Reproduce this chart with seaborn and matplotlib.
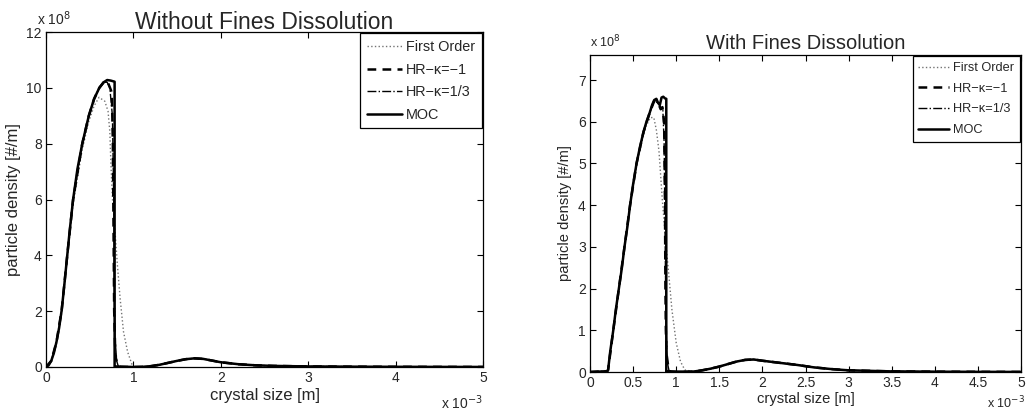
# Particle size distributions, with and without fines dissolution
import numpy as np
import pandas as pd
import seaborn as sns
import matplotlib.pyplot as plt

sns.set_style("ticks")
plt.rcParams['font.family'] = ['Liberation Sans', 'DejaVu Sans']

# ---------------------------------
# Data  (x in 1e-3 m, y in 1e8 #/m)
# ---------------------------------
# Without fines dissolution
wo_moc_x = [0, 0.03, 0.06, 0.09, 0.12, 0.15, 0.18, 0.21, 0.24, 0.27, 0.31, 0.36,
            0.415, 0.49, 0.55, 0.61, 0.66, 0.70, 0.74, 0.785, 0.785, 0.80, 0.90, 1.0]
wo_moc_y = [0, 0.06, 0.22, 0.50, 0.90, 1.40, 2.05, 2.95, 3.90, 4.85, 6.0, 7.1,
            8.0, 9.0, 9.6, 10.0, 10.2, 10.28, 10.26, 10.22, 0, 0.02, 0.01, 0.0]
wo_fo_x = [0, 0.06, 0.12, 0.18, 0.24, 0.31, 0.415, 0.49, 0.55, 0.607, 0.673, 0.71,
           0.73, 0.743, 0.76, 0.79, 0.817, 0.848, 0.887, 0.934, 0.98, 1.0]
wo_fo_y = [0, 0.2, 0.85, 1.95, 3.8, 5.85, 7.8, 8.8, 9.35, 9.66, 9.52, 9.16,
           8.44, 7.25, 6.05, 4.85, 3.65, 2.46, 1.26, 0.54, 0.12, 0.0]
wo_hr1_x = [0, 0.06, 0.12, 0.18, 0.24, 0.31, 0.415, 0.49, 0.55, 0.61, 0.66, 0.70,
            0.72, 0.745, 0.755, 0.765, 0.77, 0.775, 0.78, 0.79, 0.80, 0.82, 0.85, 1.0]
wo_hr1_y = [0, 0.22, 0.90, 2.05, 3.90, 6.0, 8.0, 9.0, 9.6, 10.0, 10.2, 10.25,
            10.1, 9.9, 9.6, 8.0, 6.0, 4.0, 2.0, 0.8, 0.3, 0.05, 0.0, 0.0]
wo_hr3_x = [0, 0.06, 0.12, 0.18, 0.24, 0.31, 0.415, 0.49, 0.55, 0.61, 0.66, 0.70,
            0.73, 0.76, 0.775, 0.78, 0.79, 0.81, 0.83, 1.0]
wo_hr3_y = [0, 0.22, 0.90, 2.05, 3.90, 6.0, 8.0, 9.0, 9.6, 10.0, 10.2, 10.2,
            10.0, 9.0, 6.0, 3.0, 1.0, 0.2, 0.0, 0.0]
wo_tail_x = [1.1, 1.2, 1.3, 1.4, 1.5, 1.6, 1.7, 1.8, 1.9, 2.0, 2.2, 2.4, 2.6,
             2.8, 3.0, 3.5, 4.0, 4.5, 5.0]
wo_tail_y = [0.005, 0.03, 0.08, 0.15, 0.22, 0.28, 0.31, 0.29, 0.23, 0.17, 0.10,
             0.06, 0.04, 0.03, 0.02, 0.012, 0.007, 0.004, 0.002]

# With fines dissolution
wi_moc_x = [0, 0.1, 0.2, 0.21, 0.235, 0.27, 0.30, 0.335, 0.37, 0.40, 0.435, 0.465,
            0.50, 0.54, 0.58, 0.62, 0.655, 0.69, 0.72, 0.745, 0.77, 0.79, 0.81,
            0.83, 0.85, 0.87, 0.885, 0.885, 0.90, 1.0]
wi_moc_y = [0, 0.01, 0.02, 0.05, 0.5, 1.0, 1.5, 2.0, 2.5, 3.0, 3.5, 4.0,
            4.5, 5.0, 5.4, 5.75, 6.0, 6.2, 6.4, 6.52, 6.55, 6.45, 6.4,
            6.58, 6.6, 6.56, 6.55, 0, 0.02, 0.01]
wi_fo_x = [0, 0.2, 0.21, 0.27, 0.335, 0.40, 0.465, 0.54, 0.60, 0.64, 0.70, 0.74,
           0.77, 0.80, 0.84, 0.88, 0.92, 0.95, 1.0, 1.05, 1.1]
wi_fo_y = [0, 0.02, 0.05, 1.0, 2.0, 3.0, 4.0, 5.0, 5.5, 5.85, 6.1, 6.1,
           5.8, 5.3, 4.1, 3.1, 2.2, 1.5, 0.7, 0.25, 0.05]
wi_hr1_x = [0, 0.2, 0.21, 0.27, 0.335, 0.40, 0.465, 0.54, 0.62, 0.69, 0.745, 0.79,
            0.82, 0.84, 0.86, 0.87, 0.875, 0.88, 0.89, 0.91, 0.93, 1.1]
wi_hr1_y = [0, 0.02, 0.05, 1.0, 2.0, 3.0, 4.0, 5.0, 5.75, 6.2, 6.5, 6.45,
            6.3, 6.35, 6.0, 4.0, 2.0, 1.0, 0.4, 0.1, 0.0, 0.0]
wi_hr3_x = [0, 0.2, 0.21, 0.27, 0.335, 0.40, 0.465, 0.54, 0.62, 0.69, 0.745, 0.79,
            0.82, 0.845, 0.86, 0.87, 0.88, 0.89, 0.90, 0.92, 1.1]
wi_hr3_y = [0, 0.02, 0.05, 1.0, 2.0, 3.0, 4.0, 5.0, 5.75, 6.2, 6.5, 6.45,
            6.35, 6.3, 5.5, 3.5, 1.5, 0.6, 0.2, 0.0, 0.0]
wi_tail_x = [1.2, 1.3, 1.4, 1.5, 1.6, 1.7, 1.8, 1.9, 2.0, 2.2, 2.4, 2.5, 2.6,
             2.8, 3.0, 3.5, 4.0, 4.5, 5.0]
wi_tail_y = [0.01, 0.04, 0.08, 0.13, 0.19, 0.25, 0.29, 0.30, 0.27, 0.22, 0.17,
             0.14, 0.11, 0.07, 0.04, 0.015, 0.008, 0.004, 0.002]

labels = ['First Order', 'HR\u2212\u03ba=\u22121', 'HR\u2212\u03ba=1/3', 'MOC']
styles = [dict(color='0.45', linestyle=':', linewidth=1.0),
          dict(color='black', linestyle=(0, (3.5, 2.5)), linewidth=1.8),
          dict(color='black', linestyle='-.', linewidth=1.0),
          dict(color='black', linestyle='-', linewidth=1.8)]


# ---------------------------------
# Methods
# ---------------------------------
def matlab_axes(ax, tick_size):
    """Inward ticks on all four sides, black box."""
    ax.tick_params(direction='in', top=True, right=True, length=4,
                   width=0.8, labelsize=tick_size, color='black', pad=3)
    for s in ax.spines.values():
        s.set_color('black')
        s.set_linewidth(0.9)


def draw_panel(ax, curves, tail_x, tail_y):
    for (cx, cy), lab, st in zip(curves, labels, styles):
        x = list(cx) + list(tail_x)
        y = list(cy) + list(tail_y)
        sns.lineplot(x=x, y=y, ax=ax, sort=False,
                     estimator=None, label=lab, **st)


# ---------------------------------
# Figure
# ---------------------------------
fig = plt.figure(figsize=(10.27, 4.12), dpi=100)
ax1 = fig.add_axes([46 / 1027, 45 / 412, 437 / 1027, 335 / 412])
ax2 = fig.add_axes([590 / 1027, 40 / 412, 431 / 1027, 317 / 412])

# Left panel
draw_panel(ax1, [(wo_fo_x, wo_fo_y), (wo_hr1_x, wo_hr1_y),
                 (wo_hr3_x, wo_hr3_y), (wo_moc_x, wo_moc_y)],
           wo_tail_x, wo_tail_y)
ax1.set(xlim=(0, 5), ylim=(0, 12), xticks=range(0, 6), yticks=range(0, 13, 2))
ax1.set_xlabel('crystal size [m]', fontsize=12, labelpad=2)
ax1.set_ylabel('particle density [#/m]', fontsize=12, labelpad=4)
ax1.set_title('Without Fines Dissolution', fontsize=16.5, pad=2)
matlab_axes(ax1, 10)
ax1.text(-0.02, 1.012, r'x 10$^{8}$', transform=ax1.transAxes,
         ha='left', va='bottom', fontsize=10)
fig.text(483 / 1027, 3 / 412, r'x 10$^{-3}$', ha='right', va='baseline',
         fontsize=10)
leg = ax1.legend(loc='upper right', frameon=True, fancybox=False,
                 edgecolor='black', framealpha=1, borderaxespad=0.1,
                 handlelength=2.4, handletextpad=0.3, labelspacing=0.6,
                 fontsize=10.4, borderpad=0.45)
leg.get_frame().set_linewidth(0.9)

# Right panel
draw_panel(ax2, [(wi_fo_x, wi_fo_y), (wi_hr1_x, wi_hr1_y),
                 (wi_hr3_x, wi_hr3_y), (wi_moc_x, wi_moc_y)],
           wi_tail_x, wi_tail_y)
ax2.set(xlim=(0, 5), ylim=(0, 7.6), xticks=np.arange(0, 5.01, 0.5),
        yticks=range(0, 8))
ax2.set_xticklabels(['0', '0.5', '1', '1.5', '2', '2.5', '3', '3.5',
                     '4', '4.5', '5'])
ax2.set_xlabel('crystal size [m]', fontsize=10.6, labelpad=1)
ax2.set_ylabel('particle density [#/m]', fontsize=10.6, labelpad=4)
ax2.set_title('With Fines Dissolution', fontsize=14.5, pad=4)
matlab_axes(ax2, 10)
ax2.text(0.0, 1.015, r'x 10$^{8}$', transform=ax2.transAxes,
         ha='left', va='bottom', fontsize=9)
fig.text(1025 / 1027, 4 / 412, r'x 10$^{-3}$', ha='right', va='baseline',
         fontsize=9)
leg = ax2.legend(loc='upper right', frameon=True, fancybox=False,
                 edgecolor='black', framealpha=1, borderaxespad=0.1,
                 handlelength=2.4, handletextpad=0.3, labelspacing=0.68,
                 fontsize=9.2, borderpad=0.45)
leg.get_frame().set_linewidth(0.9)

fig.savefig('out.png', dpi=100)
